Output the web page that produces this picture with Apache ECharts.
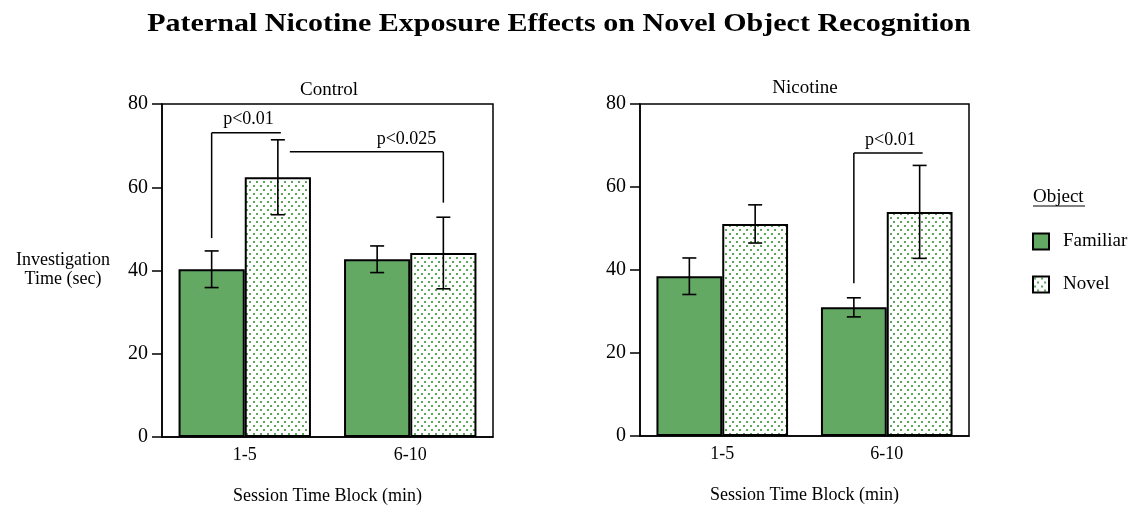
<!DOCTYPE html>
<html><head><meta charset="utf-8">
<script src="https://cdn.jsdelivr.net/npm/echarts@6/dist/echarts.min.js"></script>
<style>html,body{margin:0;padding:0;background:#fff}#c{width:1131px;height:512px}</style>
</head><body><div id="c"></div>
<script>
const categories = ['1-5', '6-10'];
const seriesNames = ['Familiar', 'Novel'];
const yTicks = [0, 20, 40, 60, 80];
// Control group
const controlFamiliar = [40.3, 42.7];
const controlFamiliarErr = [4.4, 3.2];
const controlNovel = [62.4, 44.2];
const controlNovelErr = [9.0, 8.6];
// Nicotine group
const nicotineFamiliar = [38.5, 31.0];
const nicotineFamiliarErr = [4.4, 2.3];
const nicotineNovel = [51.1, 54.0];
const nicotineNovelErr = [4.6, 11.2];
// Brackets: [cat1, series1, drop1 (or null), cat2, series2, drop2 (or null), level]
const controlBrackets = [[0, 0, 47.8, 0, 1, null, 73.1], [0, 1, null, 1, 1, 56.3, 68.5]];
const controlBracketLabels = ['p<0.01', 'p<0.025'];
const nicotineBrackets = [[1, 0, 36.8, 1, 1, null, 68.2]];
const nicotineBracketLabels = ['p<0.01'];

const FONT = 'Liberation Serif';
const GREEN = '#63a863';

function makePattern() {
  const cv = document.createElement('canvas');
  cv.width = 7; cv.height = 8;
  const ctx = cv.getContext('2d');
  ctx.fillStyle = '#ffffff'; ctx.fillRect(0, 0, 7, 8);
  ctx.fillStyle = '#58a858';
  ctx.fillRect(1, 1, 2, 2);
  ctx.fillRect(4, 5, 2, 2);
  return cv;
}
const pattern = { image: makePattern(), repeat: 'repeat' };

const chart = echarts.init(document.getElementById('c'), null, { renderer: 'canvas' });

const grids = [
  { left: 162, top: 104, width: 331, height: 333 },
  { left: 640, top: 104, width: 329, height: 332 }
];

function xAxisFor(i) {
  return {
    type: 'category', gridIndex: i, data: categories, boundaryGap: true,
    axisLine: { lineStyle: { color: '#000', width: 1.5 } },
    axisTick: { alignWithLabel: true, length: 10, lineStyle: { color: '#000', width: 1.5 } },
    axisLabel: { color: '#000', fontFamily: FONT, fontSize: 18, margin: 9 },
    name: 'Session Time Block (min)', nameLocation: 'middle', nameGap: 50,
    nameTextStyle: { color: '#000', fontFamily: FONT, fontSize: 18 }
  };
}
function yAxisFor(i) {
  return {
    type: 'value', gridIndex: i, min: 0, max: 80, interval: 20,
    axisLine: { show: true, lineStyle: { color: '#000', width: 1.5 } },
    axisTick: { show: true, length: 10, lineStyle: { color: '#000', width: 1.5 } },
    splitLine: { show: false },
    axisLabel: { color: '#000', fontFamily: FONT, fontSize: 20, margin: 14,
      formatter: v => yTicks.indexOf(v) >= 0 ? String(v) : '' }
  };
}

function barSeries(name, data, gi, isNovel) {
  return {
    type: 'bar', name: name, xAxisIndex: gi, yAxisIndex: gi, data: data,
    barGap: '0%', barCategoryGap: '20%',
    itemStyle: { color: isNovel ? pattern : GREEN, borderColor: '#000', borderWidth: 2 },
    emphasis: { disabled: true }, animation: false, z: 2
  };
}

function errSeries(vals, errs, gi, sIdx) {
  return {
    type: 'custom', xAxisIndex: gi, yAxisIndex: gi, z: 5, animation: false, silent: true,
    data: vals.map((v, i) => [i, v, errs[i]]),
    renderItem: function (params, api) {
      const c = api.value(0), v = api.value(1), e = api.value(2);
      const band = api.size([1, 0])[0];
      const off = (sIdx === 0 ? -1 : 1) * band * 0.2;
      const hi = api.coord([c, v + e]), lo = api.coord([c, v - e]);
      const x = hi[0] + off, cap = 7;
      const st = { stroke: '#000', lineWidth: 1.6 };
      return { type: 'group', children: [
        { type: 'line', shape: { x1: x, y1: hi[1], x2: x, y2: lo[1] }, style: st },
        { type: 'line', shape: { x1: x - cap, y1: hi[1], x2: x + cap, y2: hi[1] }, style: st },
        { type: 'line', shape: { x1: x - cap, y1: lo[1], x2: x + cap, y2: lo[1] }, style: st }
      ] };
    }
  };
}

function bracketSeries(br, labels, gi) {
  return {
    type: 'custom', xAxisIndex: gi, yAxisIndex: gi, z: 6, animation: false, silent: true,
    data: br.map((b, i) => [b[0], b[6], i]),
    renderItem: function (params, api) {
      const b = br[params.dataIndex];
      const band = api.size([1, 0])[0];
      const xOf = (cat, s) => api.coord([cat, 0])[0] + (s === 0 ? -1 : 1) * band * 0.2;
      const top = api.coord([0, b[6]])[1];
      let x1 = xOf(b[0], b[1]), x2 = xOf(b[3], b[4]);
      if (b[2] === null) x1 += 12;
      if (b[5] === null) x2 += 3;
      const st = { stroke: '#000', lineWidth: 1.5 };
      const ch = [{ type: 'line', shape: { x1: x1, y1: top, x2: x2, y2: top }, style: st }];
      if (b[2] !== null) ch.push({ type: 'line', shape: { x1: x1, y1: top, x2: x1, y2: api.coord([0, b[2]])[1] }, style: st });
      if (b[5] !== null) ch.push({ type: 'line', shape: { x1: x2, y1: top, x2: x2, y2: api.coord([0, b[5]])[1] }, style: st });
      ch.push({ type: 'text', style: { text: labels[params.dataIndex], x: x2 - 7, y: top - 4,
        textAlign: 'right', textVerticalAlign: 'bottom', fill: '#000', font: '18px "' + FONT + '"' } });
      return { type: 'group', children: ch };
    }
  };
}

const option = {
  backgroundColor: '#fff',
  title: [
    { text: 'Control', left: 324, top: 76, textAlign: 'center',
      textStyle: { fontFamily: FONT, fontSize: 19, fontWeight: 'normal', color: '#000' } },
    { text: 'Nicotine', left: 800, top: 74, textAlign: 'center',
      textStyle: { fontFamily: FONT, fontSize: 19, fontWeight: 'normal', color: '#000' } }
  ],
  grid: grids.map(g => Object.assign({ show: true, borderColor: '#000', borderWidth: 1.5, backgroundColor: 'transparent' }, g)),
  xAxis: [xAxisFor(0), xAxisFor(1)],
  yAxis: [yAxisFor(0), yAxisFor(1)],
  legend: {
    data: seriesNames, orient: 'vertical', left: 1027, top: 227, itemWidth: 16, itemHeight: 16, itemGap: 24,
    icon: 'rect', selectedMode: false,
    textStyle: { fontFamily: FONT, fontSize: 19, color: '#000', padding: [0, 0, 0, 9] }
  },
  graphic: [
    { type: 'text', position: [559, 25], scaleX: 1.2, style: { text: 'Paternal Nicotine Exposure Effects on Novel Object Recognition',
      textAlign: 'center', textVerticalAlign: 'middle', font: 'bold 25px "' + FONT + '"', fill: '#000' } },
    { type: 'text', position: [63, 270], style: { text: 'Investigation\nTime (sec)', textAlign: 'center', textVerticalAlign: 'middle',
      font: '18px "' + FONT + '"', fill: '#000', lineHeight: 19 } },
    { type: 'text', position: [1033, 197], style: { text: 'Object', textAlign: 'left', textVerticalAlign: 'middle',
      font: '19px "' + FONT + '"', fill: '#000' } },
    { type: 'line', shape: { x1: 1033, y1: 206, x2: 1085, y2: 206 }, style: { stroke: '#000', lineWidth: 1 } }
  ],
  series: [
    barSeries('Familiar', controlFamiliar, 0, false),
    barSeries('Novel', controlNovel, 0, true),
    errSeries(controlFamiliar, controlFamiliarErr, 0, 0),
    errSeries(controlNovel, controlNovelErr, 0, 1),
    bracketSeries(controlBrackets, controlBracketLabels, 0),
    barSeries('Familiar', nicotineFamiliar, 1, false),
    barSeries('Novel', nicotineNovel, 1, true),
    errSeries(nicotineFamiliar, nicotineFamiliarErr, 1, 0),
    errSeries(nicotineNovel, nicotineNovelErr, 1, 1),
    bracketSeries(nicotineBrackets, nicotineBracketLabels, 1)
  ]
};
chart.setOption(option);
</script></body></html>
